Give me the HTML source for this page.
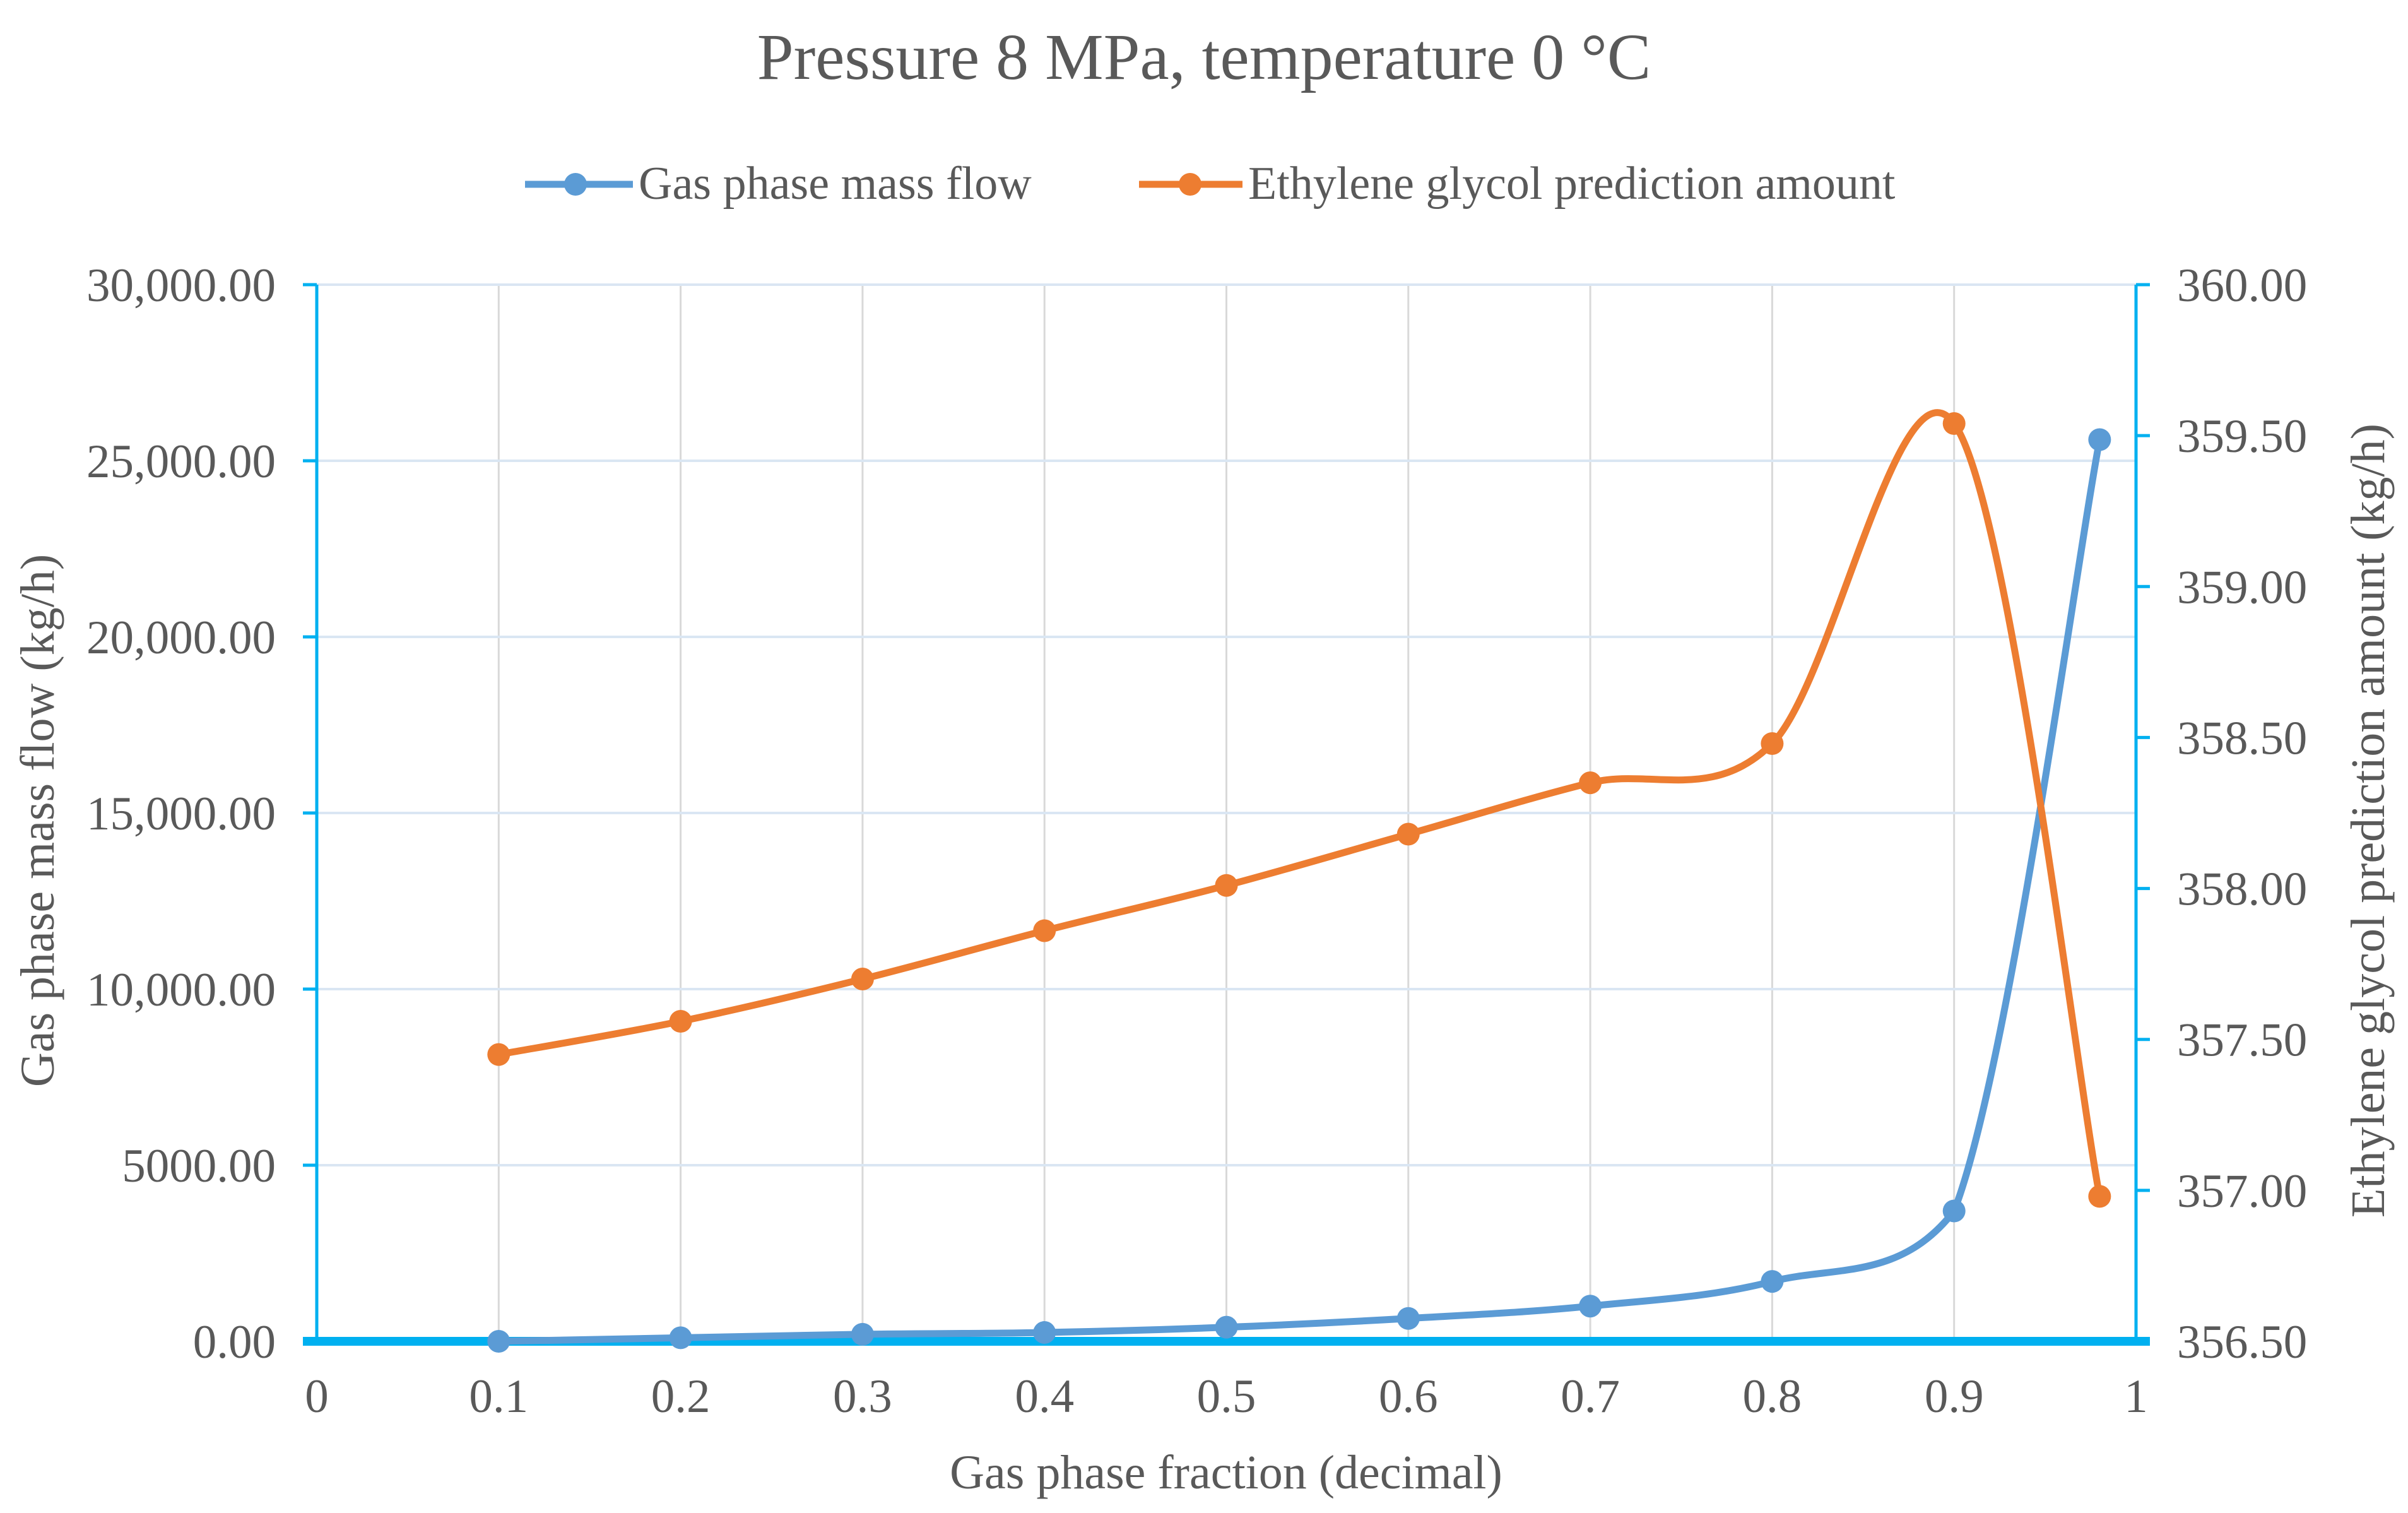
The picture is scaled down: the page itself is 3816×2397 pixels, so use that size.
<!DOCTYPE html>
<html><head><meta charset="utf-8"><style>
html,body{margin:0;padding:0;background:#fff}
svg{display:block}
text{font-family:"Liberation Serif",serif;fill:#595959}
</style></head><body>
<svg id="chart" width="3816" height="2397" viewBox="0 0 3816 2397" xmlns="http://www.w3.org/2000/svg">
<text x="1908" y="125" font-size="104" text-anchor="middle">Pressure 8 MPa, temperature 0 °C</text>
<g>
 <g>
  <line x1="832" y1="292" x2="1003" y2="292" stroke="#5B9BD5" stroke-width="11"/>
  <circle cx="912" cy="292" r="18" fill="#5B9BD5"/>
  <text x="1012" y="315" font-size="74">Gas phase mass flow</text>
 </g>
 <g>
  <line x1="1805" y1="292" x2="1969" y2="292" stroke="#ED7D31" stroke-width="11"/>
  <circle cx="1886" cy="292" r="18" fill="#ED7D31"/>
  <text x="1978" y="315" font-size="74">Ethylene glycol prediction amount</text>
 </g>
</g>
<g id="grid"></g>
<g id="axes"></g>
<g id="series"></g>
<text x="1943" y="2358" font-size="76" text-anchor="middle">Gas phase fraction (decimal)</text>
<text transform="translate(85,1300) rotate(-90)" font-size="76" text-anchor="middle">Gas phase mass flow (kg/h)</text>
<text transform="translate(3778,1300) rotate(-90)" font-size="76" text-anchor="middle">Ethylene glycol prediction amount (kg/h)</text>
</svg>
<script>
const xValues=[0.1,0.2,0.3,0.4,0.5,0.6,0.7,0.8,0.9,0.98];
const gasFlow=[0,100,200,250,400,650,1000,1700,3700,25600];
const glycol=[357.45,357.56,357.70,357.86,358.01,358.18,358.35,358.48,359.54,356.98];
const xTicks=[0,0.1,0.2,0.3,0.4,0.5,0.6,0.7,0.8,0.9,1];
const xTickLabels=["0","0.1","0.2","0.3","0.4","0.5","0.6","0.7","0.8","0.9","1"];
const leftTicks=[0,5000,10000,15000,20000,25000,30000];
const leftTickLabels=["0.00","5000.00","10,000.00","15,000.00","20,000.00","25,000.00","30,000.00"];
const rightTicks=[356.5,357,357.5,358,358.5,359,359.5,360];
const rightTickLabels=["356.50","357.00","357.50","358.00","358.50","359.00","359.50","360.00"];

const L=502,R=3385,T=451,B=2125;
const NS="http://www.w3.org/2000/svg";
const sx=v=>L+(v-0)/(1-0)*(R-L);
const syL=v=>B-(v-0)/(30000-0)*(B-T);
const syR=v=>B-(v-356.5)/(360-356.5)*(B-T);
function mk(tag,attrs,parent){const e=document.createElementNS(NS,tag);for(const k in attrs)e.setAttribute(k,attrs[k]);parent.appendChild(e);return e;}
const grid=document.getElementById('grid'),axes=document.getElementById('axes'),series=document.getElementById('series');

xTicks.forEach((t,i)=>{
  if(i>0&&i<xTicks.length-1){
    const g=mk('line',{x1:sx(t),x2:sx(t),y1:T,y2:B,stroke:'#D9D9D9','stroke-width':3},grid);
    
    
  }
  const tx=mk('text',{x:sx(t),y:2237,'font-size':75,'text-anchor':'middle'},axes);
  tx.textContent=xTickLabels[i];
  
  
});
leftTicks.forEach((t,i)=>{
  if(i>0){
    const g=mk('line',{x1:L,x2:R,y1:syL(t),y2:syL(t),stroke:'#DAE6F3','stroke-width':4},grid);
    
    
  }
  mk('line',{x1:L-22,x2:L,y1:syL(t),y2:syL(t),stroke:'#00B0F0','stroke-width':5},axes);
  const tx=mk('text',{x:437,y:syL(t)+26,'font-size':75,'text-anchor':'end'},axes);
  tx.textContent=leftTickLabels[i];
  
  
});
rightTicks.forEach((t,i)=>{
  mk('line',{x1:R,x2:R+22,y1:syR(t),y2:syR(t),stroke:'#00B0F0','stroke-width':5},axes);
  const tx=mk('text',{x:3450,y:syR(t)+26,'font-size':75},axes);
  tx.textContent=rightTickLabels[i];
  
  
});
mk('line',{x1:L,x2:L,y1:T,y2:B,stroke:'#00B0F0','stroke-width':5},axes);
mk('line',{x1:R,x2:R,y1:T,y2:B,stroke:'#00B0F0','stroke-width':5},axes);
mk('line',{x1:L-22,x2:R+22,y1:B,y2:B,stroke:'#00B0F0','stroke-width':14},axes);

function smooth(pts,clamp){
  let d=`M${pts[0][0]},${pts[0][1]}`;
  for(let i=0;i<pts.length-1;i++){
    const p0=pts[i-1]||pts[i],p1=pts[i],p2=pts[i+1],p3=pts[i+2]||p2;
    const c1=[p1[0]+(p2[0]-p0[0])/6,p1[1]+(p2[1]-p0[1])/6];
    const c2=[p2[0]-(p3[0]-p1[0])/6,p2[1]-(p3[1]-p1[1])/6];
    if(clamp){
      const lo=Math.min(p1[1],p2[1]),hi=Math.max(p1[1],p2[1]);
      c1[1]=Math.min(hi,Math.max(lo,c1[1]));
      c2[1]=Math.min(hi,Math.max(lo,c2[1]));
    }
    d+=` C${c1[0]},${c1[1]} ${c2[0]},${c2[1]} ${p2[0]},${p2[1]}`;
  }
  return d;
}
function drawSeries(vals,sy,color,name,clamp){
  const pts=xValues.map((x,i)=>[sx(x),sy(vals[i])]);
  const p=mk('path',{d:smooth(pts,clamp),fill:'none',stroke:color,'stroke-width':11,'stroke-linejoin':'round'},series);
  
  
  pts.forEach(pt=>{
    const c=mk('circle',{cx:pt[0],cy:pt[1],r:18,fill:color},series);
    
    
  });
}
drawSeries(gasFlow,syL,'#5B9BD5','gas-flow',true);
drawSeries(glycol,syR,'#ED7D31','glycol',false);
</script>
</body></html>
